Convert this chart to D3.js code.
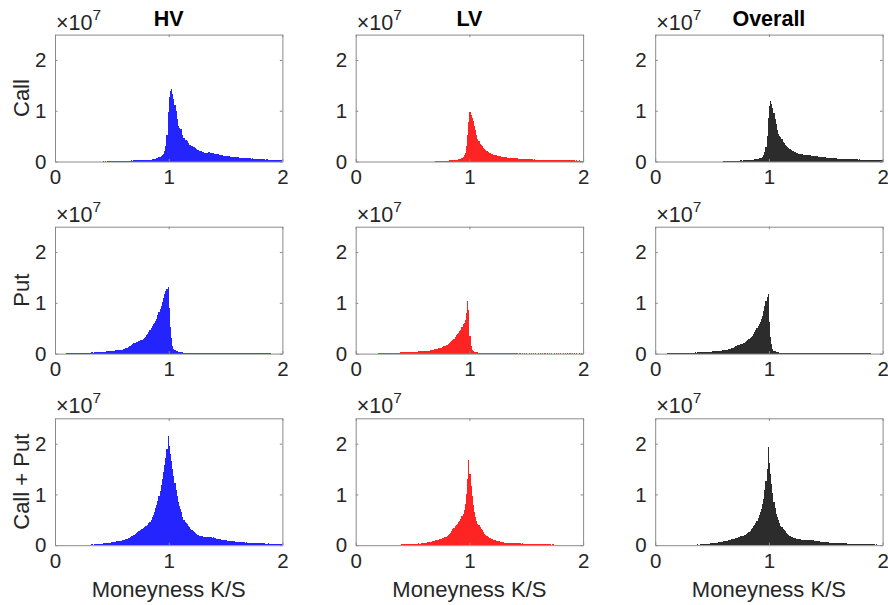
<!DOCTYPE html>
<html>
<head>
<meta charset="utf-8">
<script src="https://cdn.jsdelivr.net/npm/d3@7"></script>
<style>
  html, body { margin: 0; padding: 0; background: #fff; }
  svg { display: block; font-family: Helvetica, Arial, "Liberation Sans", sans-serif; }
</style>
</head>
<body>
<svg id="chart" width="888" height="605"></svg>
<script>
// Histogram counts per 0.01-wide moneyness bin, in units of 1e5 contracts.
// Each series starts at the bin given by its *From value and runs to 1.99.
const binWidth = 0.01;

const hvCallFrom = 0.40;
const hvCall = [
  0,0,1,0,1,0,1,1,1,1, 1,1,1,1,1,1,1,1,1,1, 1,1,1,1,1,1,1,2,1,2, 2,2,2,2,2,2,2,2,2,2,
  2,2,3,3,3,4,4,5,5,6, 7,8,9,10,12,15,21,30,52,98,
  128,138,142,133,124,112,100,84,70,66, 65,64,52,46,43,42,40,37,33,32,
  30,29,28,26,24,23,22,21,20,19, 18,17,16,16,17,18,17,16,17,16,
  15,15,14,14,13,13,12,12,11,11, 11,10,10,10,9,9,9,9,8,8,
  8,8,7,7,7,7,6,7,6,6, 6,6,5,6,5,5,5,5,4,5,
  4,4,4,4,4,3,4,3,3,3, 3,3,3,3,3,2,3,2,2,2
];

const hvPutFrom = 0.10;
const hvPut = [
  1,1,1,1,1,1,1,1,1,1, 1,1,2,1,2,2,2,2,2,2, 2,2,3,2,3,3,3,3,3,3,
  4,4,4,4,4,5,5,5,5,6, 6,6,6,7,7,7,7,8,8,8,
  9,10,11,12,13,14,15,17,18,20, 21,22,23,24,25,26,27,28,30,33,
  36,39,42,46,50,55,58,61,65,69, 76,82,88,94,102,110,118,124,128,131,
  90,52,30,15,10,7,6,5,4,4, 3,3,3,2,2,2,2,2,2,2,
  2,1,2,1,1,2,1,1,1,1, 1,1,1,1,1,1,1,1,1,1, 1,1,1,1,1,1,1,1,1,1,
  1,1,1,1,1,1,1,1,1,1, 1,1,1,1,1,1,1,1,1,1, 1,1,1,1,1,1,1,1,1,1,
  1,1,1,1,1,1,1,1,1,1
];

const hvBothFrom = 0.30;
const hvBoth = [
  1,1,2,1,2,2,2,2,3,3, 3,3,4,4,4,5,5,5,5,6, 6,7,7,7,8,8,8,9,9,10,
  10,11,12,13,14,15,16,18,19,21, 23,24,26,27,28,30,31,33,35,37,
  38,40,43,46,50,55,60,66,73,80, 88,96,106,118,130,144,158,172,190,216,
  196,180,166,150,136,122,108,96,86,78, 72,66,56,50,46,43,41,38,35,32,
  30,28,26,24,22,21,20,19,18,18, 17,17,16,17,16,17,16,16,15,16,
  15,14,13,13,12,12,11,11,10,10, 10,9,9,9,8,8,8,8,7,7,
  7,6,7,6,6,6,6,5,6,5, 5,5,5,5,5,4,5,4,4,4,
  4,4,4,4,4,3,3,4,3,3, 3,3,3,3,3,3,3,3,3,2
];

const lvCallFrom = 0.70;
const lvCall = [
  1,1,1,1,1,1,1,1,1,1, 1,1,2,2,2,2,3,3,3,3,
  4,4,5,6,8,12,17,30,52,78,
  97,92,86,80,70,62,52,44,40,34, 32,30,27,24,22,20,19,17,16,15,
  14,13,12,12,11,11,10,10,9,9, 8,8,8,7,7,7,7,7,6,6,
  6,6,6,5,5,5,5,5,4,4, 4,4,4,4,4,4,3,4,3,3,
  3,3,3,3,3,3,3,3,3,2, 3,2,2,2,2,2,2,2,2,2,
  2,2,2,2,2,2,2,2,2,2, 2,2,2,1,2,1,2,1,1,1
];

const lvPutFrom = 0.20;
const lvPut = [
  1,1,1,1,1,1,1,2,1,2, 2,2,2,2,2,2,2,2,2,3, 3,3,3,3,3,3,3,3,4,4,
  4,4,4,4,4,5,5,5,5,5, 6,6,6,6,6,7,7,8,8,9, 10,10,11,11,12,12,13,14,14,16,
  17,18,20,22,24,26,29,32,36,39, 41,44,47,53,58,60,66,80,104,86,
  35,14,8,5,4,3,3,3,2,2, 2,2,2,2,1,2,1,1,1,1,
  1,1,1,1,1,1,1,1,1,1, 1,1,1,1,1,1,1,1,1,1, 1,1,1,0,1,0,1,0,1,0,
  1,0,1,0,1,0,1,0,1,0, 1,0,1,0,1,0,1,0,1,0, 1,0,1,0,1,0,1,0,1,0,
  1,0,1,0,1,0,1,0,1,0, 1,0,1,0,1,0,1,0,1,0
];

const lvBothFrom = 0.30;
const lvBoth = [
  1,1,1,1,1,1,1,1,1,1, 2,2,2,2,2,2,3,2,3,3, 3,3,3,3,3,4,3,4,4,4,
  5,5,5,6,6,7,7,8,8,9, 10,10,11,12,12,13,14,15,16,17,
  19,21,23,25,28,31,34,37,40,42, 45,48,52,57,62,70,82,100,130,168,
  140,116,96,80,66,56,48,42,40,36, 32,29,26,23,20,18,17,15,14,13,
  12,11,10,9,9,8,8,7,7,7, 5,5,5,5,5,5,4,5,4,4,
  4,4,4,4,4,3,4,3,3,3, 3,3,3,3,3,3,2,3,2,2,
  2,2,2,2,2,2,2,2,2,2, 2,2,1,2,1,1,1,1,1,1,
  1,1,1,1,1,1,1,1,1,1, 1,1,1,1,1,1,1,1,1,1
];

const allCallFrom = 0.60;
const allCall = [
  1,1,1,1,1,1,1,1,1,1, 1,1,1,1,1,2,1,2,2,2, 2,2,2,3,3,3,3,4,4,4,
  5,6,6,7,9,12,18,28,50,86,
  110,120,114,106,96,84,74,62,55,51, 48,44,39,36,33,31,29,27,24,23,
  21,20,19,18,17,16,15,15,14,14, 13,13,12,12,12,12,12,11,11,11,
  10,10,10,9,9,9,8,8,8,8, 7,7,7,7,6,6,6,6,6,6,
  5,5,5,5,5,5,5,4,5,4, 4,4,4,4,4,4,4,4,3,4,
  3,3,3,3,3,3,3,3,3,3, 2,3,2,2,2,2,2,2,2,2
];

const allPutFrom = 0.10;
const allPut = [
  1,1,1,1,1,1,1,1,1,1, 1,1,1,1,1,2,1,2,2,2, 2,2,2,2,2,3,2,3,3,3,
  3,3,3,3,3,4,4,4,4,4, 5,5,5,5,5,6,6,6,6,7,
  7,8,8,8,9,10,10,11,12,13, 14,15,16,16,17,18,19,20,20,22,
  24,26,28,30,32,34,38,42,46,50, 54,58,62,68,74,84,94,104,112,118,
  62,32,18,10,6,5,4,3,3,2, 2,2,2,2,2,2,1,2,1,1,
  1,1,1,1,1,1,1,1,1,1, 1,1,1,1,1,1,1,1,1,1, 1,1,1,1,1,1,1,1,1,1,
  1,1,1,1,1,1,1,1,1,1, 1,1,1,1,1,1,1,1,1,1, 1,1,1,1,1,1,1,1,1,1,
  1,1,1,1,1,1,1,1,1,1
];

const allBothFrom = 0.30;
const allBoth = [
  1,1,1,1,1,1,1,2,1,2, 2,2,2,2,3,3,3,3,4,4, 4,4,5,5,5,6,6,6,7,7,
  8,8,9,9,10,10,11,12,13,13, 14,15,15,16,17,18,18,19,20,21,
  22,24,26,28,31,34,37,40,44,48, 54,60,66,72,82,92,108,126,150,194,
  162,140,120,102,86,74,62,56,50,44, 38,35,32,29,27,25,23,21,19,17,
  16,15,14,14,13,13,12,12,11,11, 11,11,11,11,11,10,10,10,10,10,
  9,9,8,8,8,7,7,7,6,6, 6,6,6,5,5,5,5,5,5,4,
  4,4,4,4,4,4,4,4,4,3, 3,3,3,3,3,3,3,3,3,3,
  3,2,3,2,2,2,2,2,2,2, 2,2,2,1,2,1,1,1,1,1
];

const countUnit = 1e5;
const columnTitles = ["HV", "LV", "Overall"];
const rowTitles = ["Call", "Put", "Call + Put"];
const xTicks = [0, 1, 2];
const yTicks = [0, 1e7, 2e7];
const xLabel = "Moneyness K/S";

// Grid of series: rows = option type, columns = volatility group
const grid = [
  [[hvCall, hvCallFrom], [lvCall, lvCallFrom], [allCall, allCallFrom]],
  [[hvPut, hvPutFrom], [lvPut, lvPutFrom], [allPut, allPutFrom]],
  [[hvBoth, hvBothFrom], [lvBoth, lvBothFrom], [allBoth, allBothFrom]]
];

// Layout
const colLeft = [55, 355.7, 655.2];
const rowTop = [34.6, 226.7, 418.3];
const plotW = 227.4;
const plotH = 126.9;
const barColors = ["#2424ff", "#ff2424", "#2c2c2c"];
const axisColor = "#8a8a8a";
const textColor = "#262626";
const tickLen = 2.6;
const tickFont = 20.5;

const svg = d3.select("#chart");

grid.forEach((row, r) => {
  row.forEach(([values, from], c) => {
    const g = svg.append("g").attr("transform", `translate(${colLeft[c]},${rowTop[r]})`);
    const x = d3.scaleLinear().domain([0, 2]).range([0, plotW]);
    const y = d3.scaleLinear().domain([0, 2.5e7]).range([plotH, 0]);
    const startIdx = Math.round(from / binWidth);

    const bins = values.map((v, i) => ({
      x0: (startIdx + i) * binWidth,
      x1: (startIdx + i + 1) * binWidth,
      count: v * countUnit
    }));

    g.append("g")
      .attr("shape-rendering", "crispEdges")
      .selectAll("rect")
      .data(bins.filter(d => d.count > 0))
      .join("rect")
      .attr("x", d => x(d.x0))
      .attr("width", d => x(d.x1) - x(d.x0))
      .attr("y", d => y(d.count))
      .attr("height", d => plotH - y(d.count))
      .attr("fill", barColors[c]);

    // Box-style axes with inward ticks on all four sides
    const bottom = d3.axisBottom(x).tickValues(xTicks).tickSizeInner(-tickLen).tickSizeOuter(0).tickPadding(8).tickFormat(d3.format("d"));
    const top = d3.axisTop(x).tickValues(xTicks).tickSizeInner(-tickLen).tickSizeOuter(0).tickFormat("");
    const left = d3.axisLeft(y).tickValues(yTicks).tickSizeInner(-tickLen).tickSizeOuter(0).tickPadding(8.5).tickFormat(d => d / 1e7);
    const right = d3.axisRight(y).tickValues(yTicks).tickSizeInner(-tickLen).tickSizeOuter(0).tickFormat("");

    const styleAxis = sel => {
      sel.attr("font-family", null).attr("font-size", null);
      sel.select(".domain").attr("stroke", axisColor).attr("stroke-width", 1);
      sel.selectAll(".tick line").attr("stroke", axisColor);
      sel.selectAll(".tick text").attr("fill", textColor).attr("font-size", tickFont);
    };

    g.append("g").attr("transform", `translate(0,${plotH})`).call(bottom).call(styleAxis);
    g.append("g").call(top).call(styleAxis);
    g.append("g").call(left).call(styleAxis);
    g.append("g").attr("transform", `translate(${plotW},0)`).call(right).call(styleAxis);

    // Exponent label
    const ex = g.append("text").attr("x", 1).attr("y", -5).attr("fill", textColor).attr("font-size", 21.5);
    ex.append("tspan").text("\u00d710");
    ex.append("tspan").attr("dy", -10).attr("font-size", 15.5).text("7");

    if (r === 0) {
      g.append("text")
        .attr("x", plotW / 2).attr("y", -9)
        .attr("text-anchor", "middle")
        .attr("font-weight", "bold").attr("font-size", 21.5)
        .attr("fill", "#000")
        .text(columnTitles[c]);
    }
    if (c === 0) {
      g.append("text")
        .attr("transform", `translate(${28.5 - colLeft[0]},${plotH / 2}) rotate(-90)`)
        .attr("text-anchor", "middle")
        .attr("font-size", 22)
        .attr("fill", textColor)
        .text(rowTitles[r]);
    }
    if (r === 2) {
      g.append("text")
        .attr("x", plotW / 2).attr("y", 597 - rowTop[2])
        .attr("text-anchor", "middle")
        .attr("font-size", 22)
        .attr("fill", textColor)
        .text(xLabel);
    }
  });
});
</script>
</body>
</html>
